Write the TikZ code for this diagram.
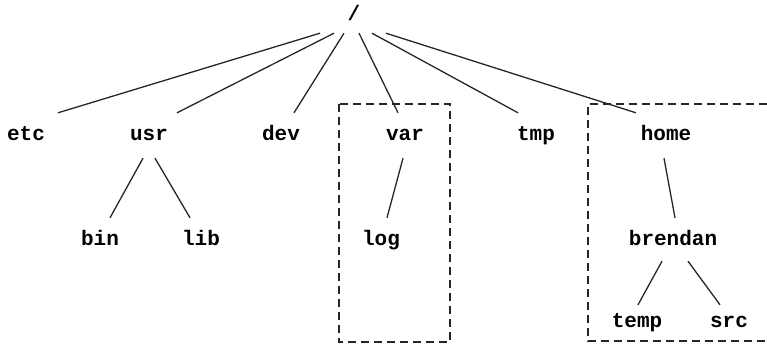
\documentclass[tikz,border=0pt]{standalone}
\usepackage{fontspec}
\newfontfamily\dirfont{Liberation Mono}
\usetikzlibrary{positioning}

\begin{document}
\begin{tikzpicture}[
    x=1pt, y=-1pt,
    % --- node styles ---
    dir/.style={
      font=\dirfont\bfseries\fontsize{21}{21}\selectfont,
      inner xsep=0pt, inner ysep=15pt,
      text height=12pt, text depth=3pt, anchor=base},
    edge/.style={line width=1.3pt, draw=black!85},
    grp/.style={line width=1.3pt, draw=black!85, dash pattern=on 8pt off 5pt},
  ]
  \useasboundingbox (0,0) rectangle (767,345);

  % ============== ROOT ==============
  \node[dir, inner ysep=9pt] (root) at (354,21) {/};

  % ============== FIRST LEVEL ==============
  \node[dir] (etc)  at (26,140)  {etc};
  \node[dir] (usr)  at (149,140) {usr};
  \node[dir] (dev)  at (281,140) {dev};
  \node[dir] (var)  at (405,140) {var};
  \node[dir] (tmp)  at (536,140) {tmp};
  \node[dir] (home) at (666,140) {home};

  % ============== SECOND LEVEL ==============
  \node[dir] (bin)     at (100,245) {bin};
  \node[dir] (lib)     at (201,245) {lib};
  \node[dir] (log)     at (381,245) {log};
  \node[dir] (brendan) at (673,245) {brendan};

  % ============== THIRD LEVEL ==============
  \node[dir] (temp) at (637,327) {temp};
  \node[dir] (src)  at (729,327) {src};

  % ============== EDGES ==============
  \draw[edge] ([xshift=-34pt]root.south) -- ([xshift=32pt]etc.north);
  \draw[edge] ([xshift=-20pt]root.south) -- ([xshift=28pt]usr.north);
  \draw[edge] ([xshift=-10pt]root.south) -- ([xshift=13pt]dev.north);
  \draw[edge] ([xshift=5pt]root.south)   -- ([xshift=-7pt]var.north);
  \draw[edge] ([xshift=18pt]root.south)  -- ([xshift=-18pt]tmp.north);
  \draw[edge] ([xshift=32pt]root.south)  -- ([xshift=-30pt]home.north);

  \draw[edge] ([xshift=-6pt]usr.south) -- ([xshift=10pt]bin.north);
  \draw[edge] ([xshift=6pt]usr.south)  -- ([xshift=-11pt]lib.north);
  \draw[edge] ([xshift=-2pt]var.south) -- ([xshift=6pt]log.north);
  \draw[edge] ([xshift=-2pt]home.south) -- ([xshift=2pt]brendan.north);

  \draw[edge] ([xshift=-11pt,yshift=2pt]brendan.south) -- ([xshift=1pt,yshift=-5pt]temp.north);
  \draw[edge] ([xshift=15pt,yshift=2pt]brendan.south)  -- ([xshift=-9pt,yshift=-5pt]src.north);

  % ============== GROUP BOXES ==============
  \draw[grp] (339,104) rectangle (450,342);
  \draw[grp] (767,104) -- (588,104) -- (588,341) -- (767,341);

\end{tikzpicture}
\end{document}
